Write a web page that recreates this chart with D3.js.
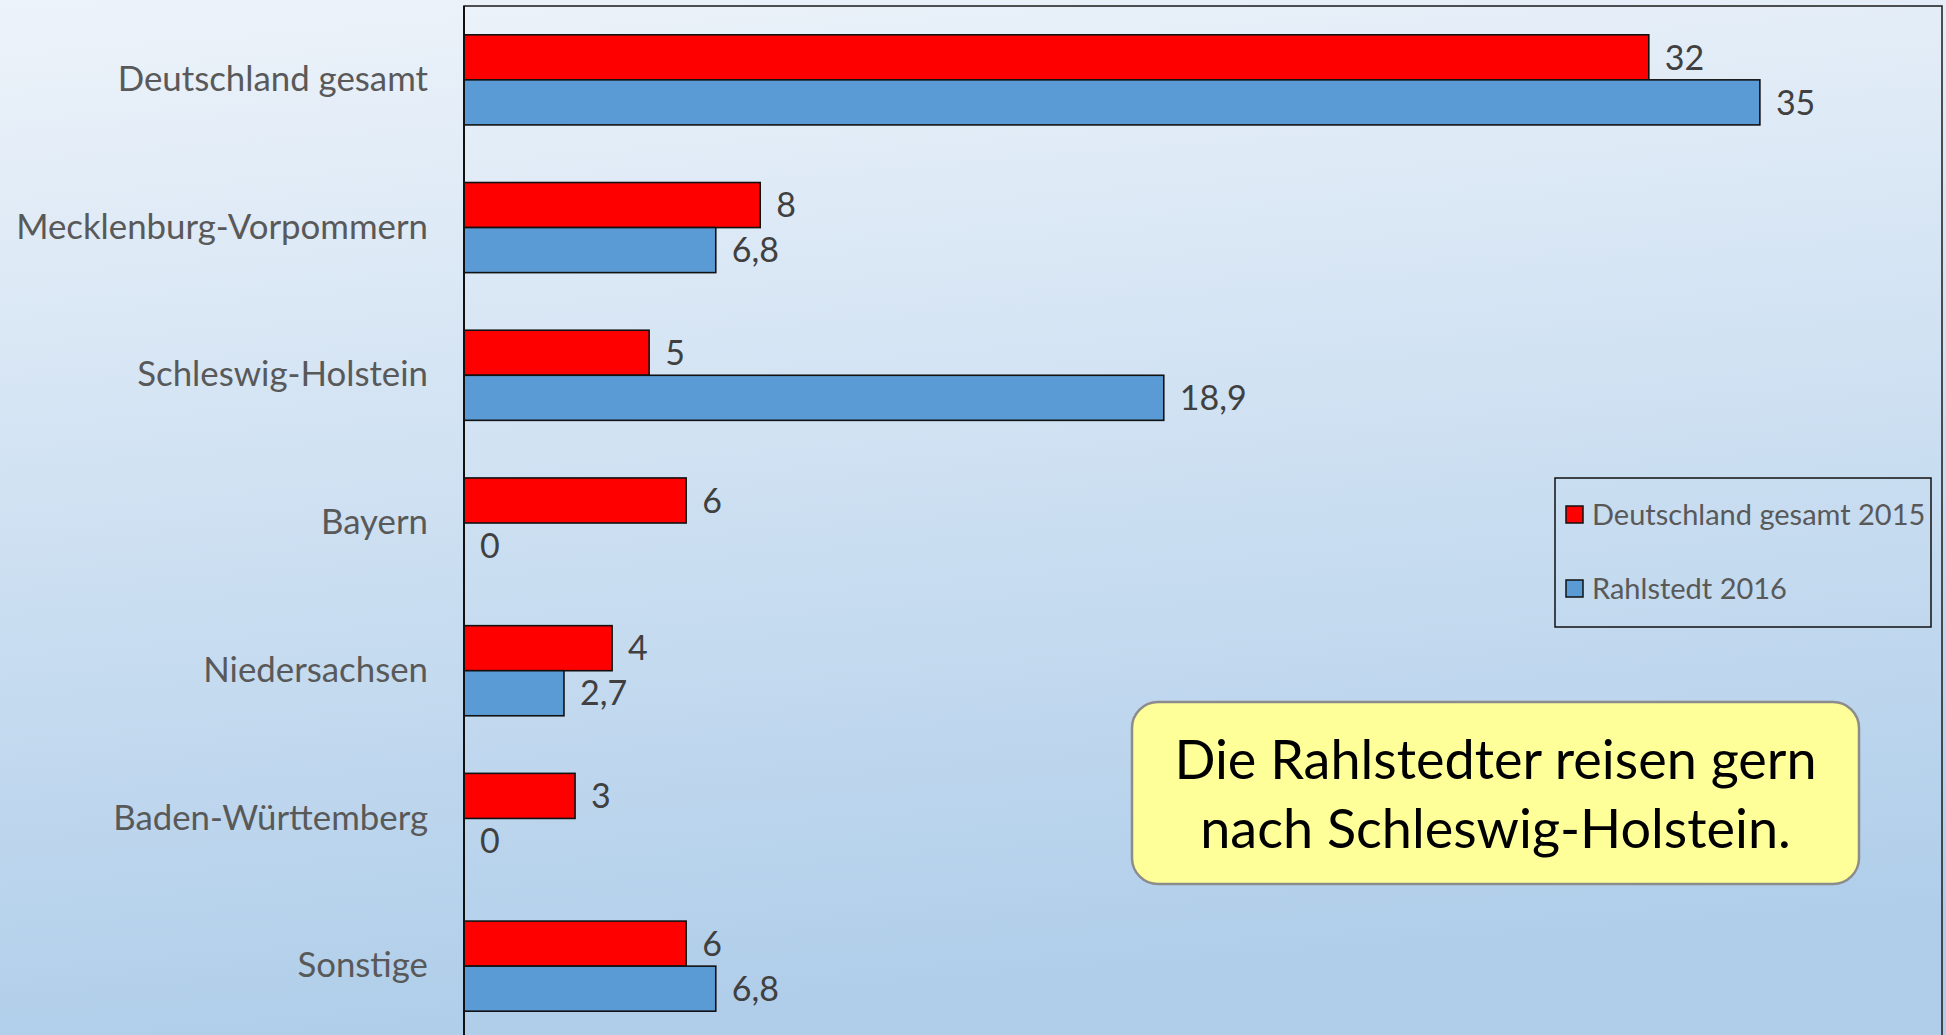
<!DOCTYPE html>
<html>
<head>
<meta charset="utf-8">
<script src="https://cdn.jsdelivr.net/npm/d3@7"></script>
<style>
  html, body { margin: 0; padding: 0; overflow: hidden; }
  svg { display: block; font-family: Lato, "Open Sans", sans-serif; }
</style>
</head>
<body>
<svg class="bar-chart" width="1946" height="1035"></svg>
<script>
// Data
const categories = ['Deutschland gesamt', 'Mecklenburg-Vorpommern', 'Schleswig-Holstein', 'Bayern', 'Niedersachsen', 'Baden-Württemberg', 'Sonstige'];
const seriesNames = ['Deutschland gesamt 2015', 'Rahlstedt 2016'];
const values2015 = [32, 8, 5, 6, 4, 3, 6];
const values2016 = [35, 6.8, 18.9, 0, 2.7, 0, 6.8];
const seriesColors = ['#FF0000', '#5B9BD5'];
const noteLines = ['Die Rahlstedter reisen gern', 'nach Schleswig-Holstein.'];

const svg = d3.select('.bar-chart');
const W = 1946, H = 1035;

// German number format (decimal comma)
const de = d3.formatLocale({ decimal: ',', thousands: '.', grouping: [3], currency: ['', ' €'] });
const fmt = de.format(',');

// Background gradient
const defs = svg.append('defs');
const grad = defs.append('linearGradient')
    .attr('id', 'bg')
    .attr('x1', 0).attr('y1', 0).attr('x2', 0.15).attr('y2', 1);
grad.append('stop').attr('offset', '0%').attr('stop-color', '#EDF3FA');
grad.append('stop').attr('offset', '100%').attr('stop-color', '#B0CEEA');
svg.append('rect').attr('width', W).attr('height', H).attr('fill', 'url(#bg)');

// Plot area
const plot = { left: 464, top: 6, right: 1942, bottom: 1040 };

const xScale = d3.scaleLinear()
    .domain([0, 40])
    .range([plot.left, 1945]);

const yScale = d3.scaleBand()
    .domain(categories)
    .range([plot.top, plot.bottom])
    .paddingInner(0.39)
    .paddingOuter(0.195);

const subScale = d3.scaleBand()
    .domain(seriesNames)
    .range([0, yScale.bandwidth()]);

const rows = categories.map((c, i) => ({
    category: c,
    values: [
        { series: seriesNames[0], value: values2015[i], color: seriesColors[0] },
        { series: seriesNames[1], value: values2016[i], color: seriesColors[1] }
    ]
}));

// Plot area frame
svg.append('rect')
    .attr('x', plot.left)
    .attr('y', plot.top)
    .attr('width', plot.right - plot.left)
    .attr('height', plot.bottom - plot.top)
    .attr('fill', 'none')
    .attr('stroke', '#1a1a1a')
    .attr('stroke-width', 1.5);

// Bars
const groups = svg.append('g').selectAll('g')
    .data(rows)
    .join('g')
    .attr('transform', d => `translate(0, ${yScale(d.category)})`);

groups.selectAll('rect')
    .data(d => d.values)
    .join('rect')
    .attr('x', xScale(0))
    .attr('y', d => subScale(d.series))
    .attr('width', d => xScale(d.value) - xScale(0))
    .attr('height', subScale.bandwidth())
    .attr('fill', d => d.color)
    .attr('stroke', '#111')
    .attr('stroke-width', 1.6)
    .attr('display', d => d.value === 0 ? 'none' : null);

// Value labels
groups.selectAll('text')
    .data(d => d.values)
    .join('text')
    .attr('x', d => xScale(d.value) + 16)
    .attr('y', d => subScale(d.series) + subScale.bandwidth() / 2)
    .attr('dy', '0.36em')
    .attr('fill', '#404040')
    .attr('font-size', 34)
    .text(d => fmt(d.value));

// Category axis
const yAxis = svg.append('g')
    .attr('transform', `translate(${plot.left}, 0)`)
    .call(d3.axisLeft(yScale).tickSize(0).tickPadding(36));
yAxis.select('.domain')
    .attr('d', `M0,${plot.top}V${plot.bottom}`)
    .attr('stroke', '#111')
    .attr('stroke-width', 2);
yAxis.selectAll('text')
    .attr('font-family', 'Lato, "Open Sans", sans-serif')
    .attr('font-size', 34.8)
    .attr('fill', '#595959');

// Legend
const legend = svg.append('g').attr('transform', 'translate(1555, 478)');
legend.append('rect')
    .attr('width', 376)
    .attr('height', 149)
    .attr('fill', 'none')
    .attr('stroke', '#111')
    .attr('stroke-width', 1.5);
const items = legend.selectAll('g.item')
    .data(seriesNames)
    .join('g')
    .attr('class', 'item')
    .attr('transform', (d, i) => `translate(11, ${28 + i * 74})`);
items.append('rect')
    .attr('width', 17)
    .attr('height', 17)
    .attr('fill', (d, i) => seriesColors[i])
    .attr('stroke', '#111')
    .attr('stroke-width', 1.5);
items.append('text')
    .attr('x', 26)
    .attr('y', 9)
    .attr('dy', '0.36em')
    .attr('font-size', 29)
    .attr('fill', '#595959')
    .text(d => d);

// Annotation box
const note = svg.append('g').attr('transform', 'translate(1132, 702)');
note.append('rect')
    .attr('width', 727)
    .attr('height', 182)
    .attr('rx', 26)
    .attr('fill', '#FFFF99')
    .attr('stroke', '#8c8c8c')
    .attr('stroke-width', 2.5);
note.selectAll('text')
    .data(noteLines)
    .join('text')
    .attr('x', 727 / 2)
    .attr('y', (d, i) => 58 + i * 69)
    .attr('dy', '0.36em')
    .attr('text-anchor', 'middle')
    .attr('font-size', 54)
    .attr('fill', '#000')
    .text(d => d);
</script>
</body>
</html>
